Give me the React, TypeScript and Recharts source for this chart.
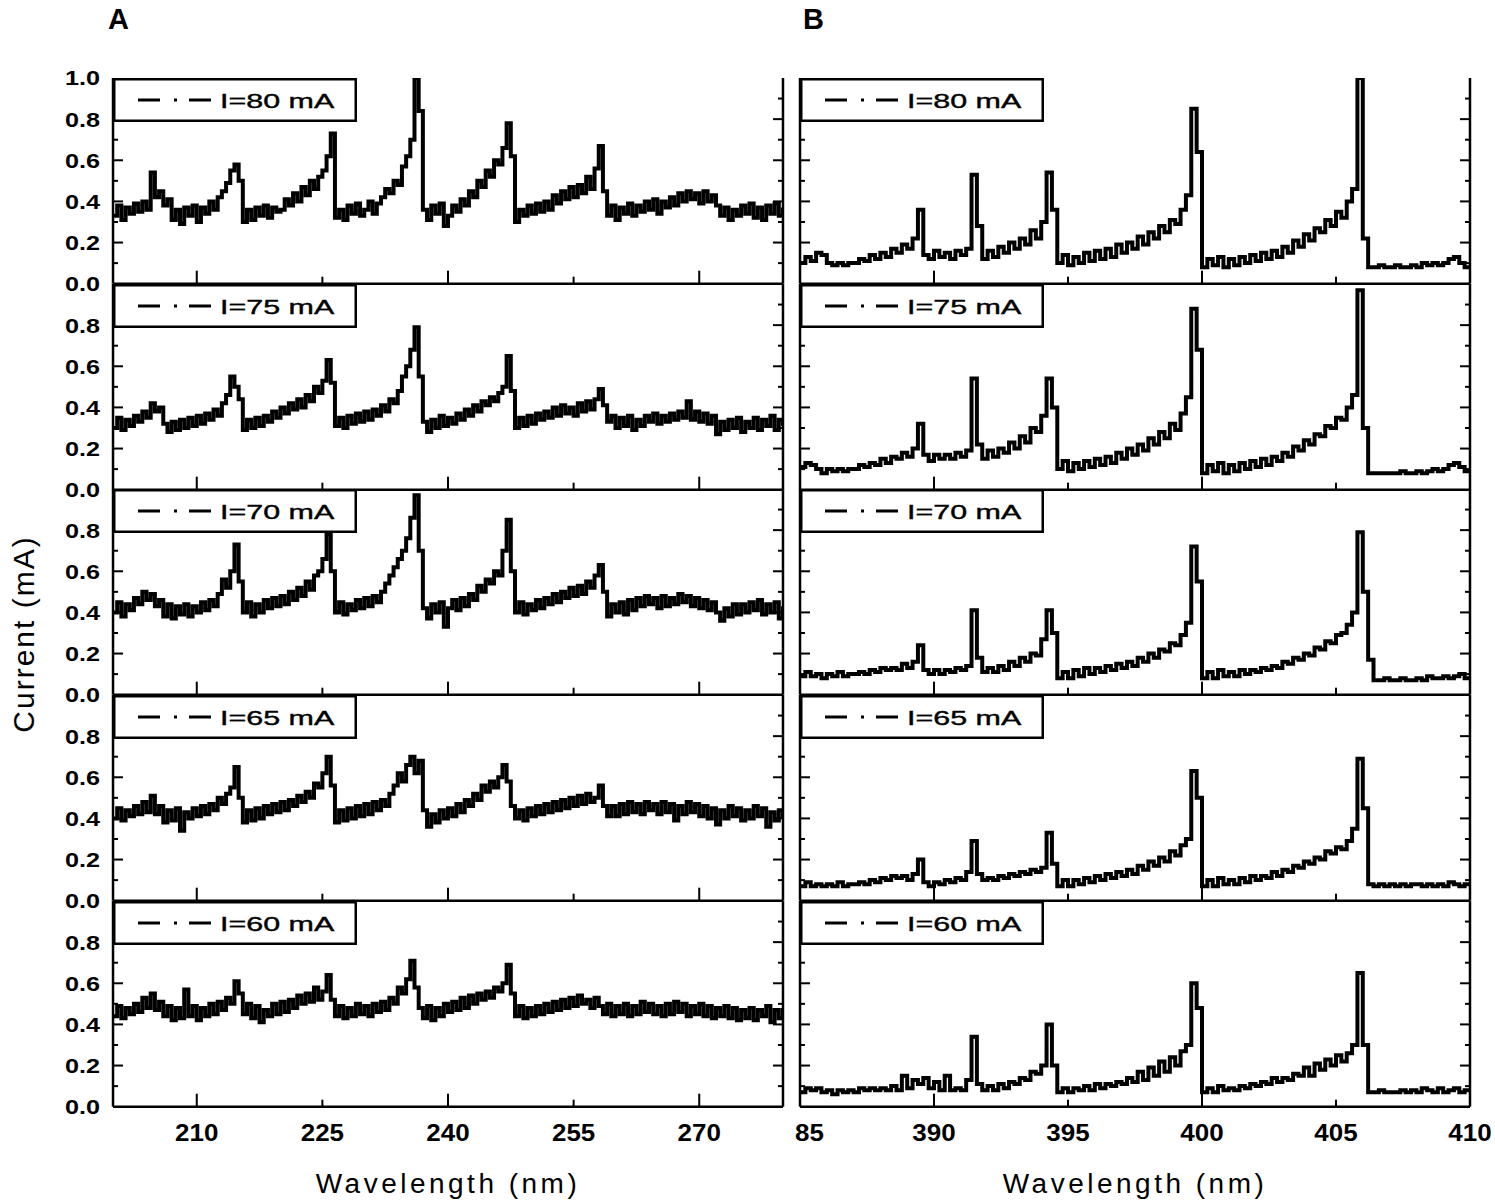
import { LineChart, Line, XAxis, YAxis, Legend } from 'recharts'

// wavelength sampling of the two spectra
const LEFT_START = 200
const LEFT_STEP = 0.5
const RIGHT_START = 385
const RIGHT_STEP = 0.2

const CURRENTS = ['I=80 mA', 'I=75 mA', 'I=70 mA', 'I=65 mA', 'I=60 mA']

const LEFT_TICKS = [210, 225, 240, 255, 270]
const LEFT_MAJOR = [210, 240, 270]
const LEFT_TICK_LABELS = ['210', '225', '240', '255', '270']
const RIGHT_TICKS = [385, 390, 395, 400, 405, 410]
const RIGHT_MAJOR = [390, 400, 410]
const RIGHT_TICK_LABELS = ['85', '390', '395', '400', '405', '410']
const Y_TICKS = [0, 0.1, 0.2, 0.3, 0.4, 0.5, 0.6, 0.7, 0.8, 0.9, 1.0]

// panel A, 200-280 nm, every 0.5 nm
const A80 = [
  0.33, 0.38, 0.31, 0.37, 0.34, 0.39, 0.35, 0.40, 0.36, 0.54,
  0.42, 0.45, 0.38, 0.41, 0.31, 0.36, 0.29, 0.37, 0.33, 0.38,
  0.30, 0.37, 0.34, 0.40, 0.36, 0.42, 0.45, 0.49, 0.55, 0.58,
  0.50, 0.30, 0.36, 0.31, 0.37, 0.33, 0.38, 0.32, 0.37, 0.35,
  0.36, 0.41, 0.38, 0.44, 0.40, 0.47, 0.43, 0.50, 0.46, 0.52,
  0.55, 0.62, 0.73, 0.32, 0.36, 0.31, 0.38, 0.34, 0.39, 0.33,
  0.36, 0.40, 0.34, 0.39, 0.42, 0.46, 0.44, 0.50, 0.48, 0.57,
  0.62, 0.70, 1.00, 0.84, 0.36, 0.31, 0.38, 0.34, 0.39, 0.28,
  0.33, 0.38, 0.35, 0.41, 0.38, 0.45, 0.42, 0.50, 0.47, 0.55,
  0.52, 0.60, 0.58, 0.66, 0.78, 0.62, 0.30, 0.36, 0.33, 0.38,
  0.34, 0.39, 0.35, 0.40, 0.36, 0.43, 0.39, 0.45, 0.41, 0.47,
  0.42, 0.48, 0.44, 0.52, 0.46, 0.56, 0.67, 0.45, 0.33, 0.38,
  0.31, 0.37, 0.34, 0.39, 0.33, 0.38, 0.35, 0.40, 0.36, 0.41,
  0.34, 0.40, 0.37, 0.42, 0.38, 0.44, 0.40, 0.45, 0.41, 0.44,
  0.39, 0.45, 0.40, 0.43, 0.38, 0.33, 0.37, 0.31, 0.36, 0.33,
  0.38, 0.34, 0.39, 0.32, 0.37, 0.31, 0.38, 0.34, 0.39, 0.33, 0.37,
]
const A75 = [
  0.30, 0.35, 0.29, 0.34, 0.31, 0.36, 0.33, 0.38, 0.35, 0.42,
  0.38, 0.40, 0.32, 0.28, 0.33, 0.29, 0.34, 0.30, 0.35, 0.31,
  0.36, 0.32, 0.37, 0.34, 0.39, 0.36, 0.42, 0.46, 0.55, 0.50,
  0.44, 0.29, 0.34, 0.30, 0.35, 0.31, 0.36, 0.33, 0.38, 0.35,
  0.40, 0.37, 0.42, 0.39, 0.44, 0.40, 0.46, 0.43, 0.50, 0.47,
  0.53, 0.63, 0.52, 0.31, 0.35, 0.30, 0.36, 0.32, 0.37, 0.33,
  0.38, 0.34, 0.39, 0.36, 0.41, 0.38, 0.44, 0.42, 0.48, 0.55,
  0.60, 0.68, 0.79, 0.55, 0.33, 0.28, 0.34, 0.30, 0.36, 0.31,
  0.35, 0.32, 0.37, 0.34, 0.39, 0.36, 0.41, 0.38, 0.43, 0.41,
  0.45, 0.43, 0.47, 0.50, 0.65, 0.48, 0.30, 0.35, 0.31, 0.36,
  0.32, 0.37, 0.34, 0.38, 0.35, 0.40, 0.36, 0.41, 0.37, 0.40,
  0.36, 0.42, 0.38, 0.43, 0.39, 0.44, 0.49, 0.41, 0.33, 0.36,
  0.30, 0.35, 0.31, 0.36, 0.29, 0.34, 0.31, 0.36, 0.33, 0.37,
  0.32, 0.36, 0.33, 0.37, 0.34, 0.38, 0.35, 0.43, 0.34, 0.38,
  0.33, 0.37, 0.32, 0.36, 0.27, 0.33, 0.29, 0.34, 0.30, 0.35,
  0.28, 0.33, 0.30, 0.35, 0.29, 0.34, 0.31, 0.36, 0.29, 0.34, 0.31,
]
const A70 = [
  0.40, 0.45, 0.38, 0.44, 0.41, 0.47, 0.44, 0.50, 0.46, 0.49,
  0.43, 0.46, 0.38, 0.44, 0.37, 0.43, 0.39, 0.44, 0.38, 0.43,
  0.40, 0.45, 0.41, 0.46, 0.43, 0.49, 0.56, 0.52, 0.60, 0.73,
  0.55, 0.40, 0.45, 0.38, 0.44, 0.40, 0.46, 0.42, 0.47, 0.43,
  0.48, 0.44, 0.50, 0.46, 0.52, 0.48, 0.55, 0.51, 0.58, 0.60,
  0.66, 0.78, 0.60, 0.40, 0.45, 0.39, 0.44, 0.41, 0.46, 0.42,
  0.47, 0.43, 0.48, 0.45, 0.50, 0.54, 0.58, 0.62, 0.66, 0.70,
  0.76, 0.86, 0.97, 0.70, 0.42, 0.37, 0.44, 0.40, 0.45, 0.33,
  0.42, 0.46, 0.41, 0.47, 0.43, 0.49, 0.46, 0.53, 0.50, 0.56,
  0.54, 0.60, 0.58, 0.70, 0.85, 0.60, 0.40, 0.45, 0.39, 0.44,
  0.41, 0.46, 0.42, 0.47, 0.44, 0.49, 0.45, 0.50, 0.47, 0.52,
  0.48, 0.53, 0.49, 0.55, 0.52, 0.58, 0.63, 0.50, 0.38, 0.44,
  0.40, 0.45, 0.39, 0.46, 0.41, 0.47, 0.43, 0.48, 0.44, 0.47,
  0.42, 0.48, 0.43, 0.47, 0.44, 0.49, 0.45, 0.48, 0.43, 0.47,
  0.42, 0.46, 0.41, 0.45, 0.40, 0.36, 0.42, 0.38, 0.44, 0.39,
  0.44, 0.40, 0.45, 0.41, 0.46, 0.39, 0.44, 0.40, 0.45, 0.37, 0.43,
]
const A65 = [
  0.40, 0.45, 0.39, 0.44, 0.41, 0.46, 0.42, 0.48, 0.43, 0.51,
  0.42, 0.46, 0.38, 0.44, 0.39, 0.45, 0.34, 0.43, 0.40, 0.45,
  0.41, 0.46, 0.42, 0.47, 0.44, 0.50, 0.47, 0.52, 0.55, 0.65,
  0.50, 0.38, 0.44, 0.39, 0.45, 0.40, 0.46, 0.42, 0.47, 0.43,
  0.48, 0.44, 0.49, 0.46, 0.51, 0.48, 0.53, 0.50, 0.57, 0.55,
  0.62, 0.70, 0.56, 0.38, 0.44, 0.39, 0.45, 0.40, 0.46, 0.41,
  0.47, 0.42, 0.48, 0.44, 0.49, 0.46, 0.52, 0.56, 0.62, 0.58,
  0.66, 0.70, 0.62, 0.68, 0.44, 0.36, 0.42, 0.38, 0.44, 0.40,
  0.45, 0.41, 0.47, 0.43, 0.49, 0.46, 0.52, 0.49, 0.56, 0.53,
  0.58, 0.55, 0.60, 0.66, 0.58, 0.46, 0.40, 0.44, 0.39, 0.45,
  0.41, 0.46, 0.42, 0.47, 0.43, 0.48, 0.44, 0.49, 0.45, 0.50,
  0.46, 0.51, 0.47, 0.52, 0.48, 0.50, 0.56, 0.46, 0.41, 0.46,
  0.41, 0.47, 0.42, 0.48, 0.43, 0.47, 0.42, 0.48, 0.44, 0.47,
  0.42, 0.48, 0.43, 0.47, 0.39, 0.46, 0.42, 0.48, 0.43, 0.47,
  0.41, 0.46, 0.40, 0.45, 0.37, 0.44, 0.40, 0.46, 0.41, 0.45,
  0.39, 0.44, 0.40, 0.46, 0.41, 0.45, 0.36, 0.43, 0.39, 0.44, 0.40,
]
const A60 = [
  0.44, 0.49, 0.43, 0.48, 0.45, 0.50, 0.46, 0.53, 0.48, 0.55,
  0.47, 0.51, 0.44, 0.49, 0.42, 0.48, 0.43, 0.57, 0.44, 0.49,
  0.42, 0.48, 0.44, 0.50, 0.45, 0.51, 0.47, 0.53, 0.50, 0.61,
  0.55, 0.45, 0.50, 0.43, 0.49, 0.41, 0.47, 0.44, 0.50, 0.45,
  0.51, 0.46, 0.52, 0.48, 0.54, 0.50, 0.55, 0.51, 0.58, 0.52,
  0.56, 0.64, 0.52, 0.44, 0.49, 0.43, 0.48, 0.44, 0.50, 0.45,
  0.49, 0.44, 0.50, 0.46, 0.51, 0.47, 0.53, 0.50, 0.58, 0.55,
  0.62, 0.71, 0.58, 0.48, 0.43, 0.49, 0.42, 0.48, 0.44, 0.50,
  0.46, 0.51, 0.47, 0.53, 0.48, 0.54, 0.50, 0.55, 0.52, 0.56,
  0.53, 0.58, 0.56, 0.60, 0.69, 0.55, 0.44, 0.49, 0.43, 0.48,
  0.44, 0.49, 0.45, 0.50, 0.46, 0.51, 0.47, 0.52, 0.48, 0.53,
  0.49, 0.54, 0.50, 0.52, 0.48, 0.53, 0.49, 0.45, 0.50, 0.44,
  0.49, 0.45, 0.50, 0.44, 0.49, 0.45, 0.51, 0.46, 0.50, 0.45,
  0.49, 0.44, 0.50, 0.45, 0.51, 0.46, 0.50, 0.44, 0.49, 0.45,
  0.50, 0.44, 0.49, 0.43, 0.48, 0.44, 0.49, 0.43, 0.48, 0.42,
  0.47, 0.43, 0.48, 0.42, 0.47, 0.44, 0.49, 0.41, 0.47, 0.43, 0.48,
]

// panel B, 385-410 nm, every 0.2 nm
const B80 = [
  0.10, 0.13, 0.11, 0.15, 0.14, 0.10, 0.09, 0.10, 0.09, 0.10,
  0.10, 0.12, 0.11, 0.14, 0.12, 0.15, 0.13, 0.17, 0.15, 0.19,
  0.17, 0.22, 0.36, 0.14, 0.12, 0.16, 0.13, 0.15, 0.12, 0.16,
  0.14, 0.17, 0.53, 0.28, 0.12, 0.16, 0.13, 0.18, 0.15, 0.20,
  0.17, 0.22, 0.19, 0.26, 0.22, 0.30, 0.54, 0.36, 0.10, 0.14,
  0.09, 0.13, 0.10, 0.15, 0.11, 0.16, 0.12, 0.17, 0.13, 0.19,
  0.15, 0.20, 0.17, 0.23, 0.19, 0.25, 0.22, 0.28, 0.25, 0.31,
  0.29, 0.36, 0.43, 0.85, 0.64, 0.08, 0.12, 0.09, 0.13, 0.08,
  0.12, 0.09, 0.13, 0.10, 0.14, 0.11, 0.15, 0.12, 0.16, 0.13,
  0.18, 0.15, 0.21, 0.18, 0.24, 0.21, 0.27, 0.25, 0.31, 0.28,
  0.35, 0.32, 0.40, 0.46, 1.00, 0.22, 0.08, 0.08, 0.09, 0.08,
  0.08, 0.09, 0.08, 0.08, 0.09, 0.08, 0.10, 0.09, 0.10, 0.09,
  0.10, 0.12, 0.13, 0.10, 0.08, 0.07,
]
const B75 = [
  0.11, 0.13, 0.12, 0.10, 0.08, 0.10, 0.09, 0.10, 0.09, 0.10,
  0.10, 0.12, 0.11, 0.13, 0.12, 0.15, 0.13, 0.16, 0.15, 0.18,
  0.16, 0.20, 0.32, 0.17, 0.14, 0.17, 0.15, 0.17, 0.15, 0.18,
  0.16, 0.19, 0.54, 0.22, 0.15, 0.19, 0.16, 0.20, 0.18, 0.23,
  0.20, 0.26, 0.23, 0.30, 0.28, 0.36, 0.54, 0.40, 0.10, 0.14,
  0.09, 0.13, 0.10, 0.14, 0.11, 0.15, 0.12, 0.16, 0.13, 0.18,
  0.15, 0.20, 0.17, 0.22, 0.19, 0.25, 0.22, 0.28, 0.25, 0.32,
  0.29, 0.37, 0.45, 0.88, 0.68, 0.08, 0.12, 0.09, 0.13, 0.08,
  0.12, 0.09, 0.13, 0.10, 0.14, 0.11, 0.15, 0.12, 0.16, 0.14,
  0.18, 0.16, 0.21, 0.19, 0.24, 0.22, 0.27, 0.26, 0.31, 0.30,
  0.35, 0.34, 0.40, 0.46, 0.97, 0.30, 0.08, 0.08, 0.08, 0.08,
  0.08, 0.08, 0.09, 0.08, 0.08, 0.09, 0.08, 0.09, 0.10, 0.09,
  0.10, 0.12, 0.13, 0.11, 0.09, 0.08,
]
const B70 = [
  0.09, 0.11, 0.09, 0.10, 0.08, 0.10, 0.09, 0.11, 0.09, 0.10,
  0.10, 0.11, 0.10, 0.12, 0.11, 0.13, 0.12, 0.13, 0.12, 0.15,
  0.13, 0.16, 0.24, 0.12, 0.10, 0.12, 0.10, 0.12, 0.11, 0.13,
  0.12, 0.14, 0.41, 0.18, 0.11, 0.13, 0.11, 0.14, 0.12, 0.16,
  0.14, 0.18, 0.16, 0.20, 0.19, 0.27, 0.41, 0.30, 0.08, 0.11,
  0.08, 0.12, 0.09, 0.13, 0.10, 0.13, 0.11, 0.14, 0.12, 0.15,
  0.13, 0.16, 0.14, 0.18, 0.16, 0.20, 0.18, 0.22, 0.21, 0.25,
  0.24, 0.29, 0.35, 0.72, 0.55, 0.08, 0.11, 0.08, 0.12, 0.09,
  0.11, 0.09, 0.12, 0.10, 0.12, 0.11, 0.13, 0.12, 0.14, 0.13,
  0.16, 0.15, 0.18, 0.17, 0.20, 0.19, 0.23, 0.22, 0.26, 0.25,
  0.29, 0.30, 0.34, 0.40, 0.79, 0.50, 0.17, 0.07, 0.07, 0.08,
  0.07, 0.07, 0.08, 0.07, 0.07, 0.08, 0.07, 0.09, 0.08, 0.08,
  0.09, 0.08, 0.09, 0.10, 0.08, 0.07,
]
const B65 = [
  0.07, 0.09, 0.07, 0.08, 0.07, 0.08, 0.07, 0.09, 0.07, 0.08,
  0.08, 0.09, 0.08, 0.10, 0.09, 0.11, 0.10, 0.12, 0.11, 0.12,
  0.10, 0.13, 0.20, 0.09, 0.07, 0.09, 0.08, 0.10, 0.09, 0.11,
  0.10, 0.14, 0.29, 0.13, 0.10, 0.11, 0.10, 0.12, 0.11, 0.13,
  0.12, 0.14, 0.13, 0.15, 0.14, 0.16, 0.33, 0.18, 0.07, 0.10,
  0.07, 0.10, 0.08, 0.11, 0.09, 0.12, 0.10, 0.13, 0.11, 0.14,
  0.12, 0.15, 0.13, 0.17, 0.15, 0.19, 0.17, 0.21, 0.19, 0.24,
  0.22, 0.27, 0.30, 0.63, 0.50, 0.07, 0.10, 0.07, 0.11, 0.08,
  0.10, 0.08, 0.11, 0.09, 0.12, 0.10, 0.12, 0.11, 0.14, 0.12,
  0.15, 0.14, 0.17, 0.16, 0.19, 0.18, 0.21, 0.20, 0.24, 0.23,
  0.26, 0.25, 0.29, 0.35, 0.69, 0.45, 0.08, 0.07, 0.08, 0.07,
  0.08, 0.07, 0.08, 0.07, 0.08, 0.08, 0.07, 0.08, 0.07, 0.08,
  0.07, 0.09, 0.08, 0.07, 0.08, 0.07,
]
const B60 = [
  0.07, 0.09, 0.08, 0.09, 0.07, 0.08, 0.06, 0.08, 0.07, 0.08,
  0.07, 0.09, 0.08, 0.09, 0.08, 0.09, 0.08, 0.10, 0.08, 0.15,
  0.09, 0.13, 0.11, 0.14, 0.09, 0.12, 0.08, 0.15, 0.08, 0.09,
  0.08, 0.13, 0.34, 0.11, 0.08, 0.10, 0.08, 0.11, 0.09, 0.12,
  0.11, 0.14, 0.13, 0.17, 0.16, 0.20, 0.40, 0.20, 0.07, 0.09,
  0.07, 0.09, 0.08, 0.10, 0.08, 0.11, 0.09, 0.11, 0.10, 0.12,
  0.11, 0.14, 0.12, 0.17, 0.13, 0.19, 0.15, 0.22, 0.17, 0.24,
  0.20, 0.27, 0.30, 0.60, 0.48, 0.07, 0.09, 0.07, 0.10, 0.08,
  0.09, 0.08, 0.10, 0.09, 0.11, 0.10, 0.12, 0.11, 0.14, 0.12,
  0.14, 0.13, 0.16, 0.15, 0.19, 0.15, 0.21, 0.18, 0.23, 0.20,
  0.25, 0.22, 0.26, 0.30, 0.65, 0.30, 0.07, 0.07, 0.08, 0.07,
  0.07, 0.07, 0.08, 0.07, 0.08, 0.07, 0.09, 0.08, 0.07, 0.09,
  0.07, 0.08, 0.09, 0.07, 0.08, 0.07,
]

const LEFT_SERIES = [A80, A75, A70, A65, A60]
const RIGHT_SERIES = [B80, B75, B70, B65, B60]

const FONT = '"Liberation Sans", Arial, Helvetica, sans-serif'
const PAD = 14
const TOP0 = 77.8
const PANEL_H = 205.7
const PLOT_W = 670
const BOTTOM_H = 95
const frame = { stroke: '#000', strokeWidth: 2.5 }

const COLUMNS = [
  {
    id: 'A', plotLeft: 113, leftW: 75, rightW: 6, domain: [200, 280],
    ticks: LEFT_TICKS, major: LEFT_MAJOR, tickLabels: LEFT_TICK_LABELS,
    series: LEFT_SERIES, start: LEFT_START, step: LEFT_STEP, yLabels: true, lineW: 4,
  },
  {
    id: 'B', plotLeft: 800, leftW: 6, rightW: 22, domain: [385, 410],
    ticks: RIGHT_TICKS, major: RIGHT_MAJOR, tickLabels: RIGHT_TICK_LABELS,
    series: RIGHT_SERIES, start: RIGHT_START, step: RIGHT_STEP, yLabels: false, lineW: 4,
  },
]

function LegendBox({ text }: { text: string }) {
  return (
    <svg width={244} height={44} style={{ display: 'block' }}>
      <rect x={1.25} y={1.25} width={241.5} height={41.5} fill="#fff" stroke="#000" strokeWidth={2.5} />
      <line x1={25} x2={98} y1={22} y2={22} stroke="#000" strokeWidth={3} strokeDasharray="22 14 3 12 22" />
      <text
        transform="translate(107,29.5) scale(1.45,1)"
        fontSize={21}
        fontFamily={FONT}
        fill="#000"
        stroke="#000"
        strokeWidth={0.4}
      >
        {text}
      </text>
    </svg>
  )
}

function Panel({ col, k }: { col: any; k: number }) {
  const isLast = k === 4
  const top = TOP0 + k * PANEL_H
  const vals: number[] = col.series[k]
  const rows = vals.map((v, i) => ({ x: col.start + i * col.step, v }))
  const [lo, hi] = col.domain

  const bottomTick = (p: any) => {
    const v = p.payload.value
    const inside = v > lo && v < hi
    const len = col.major.includes(v) ? 13 : 7
    const label = col.tickLabels[col.ticks.indexOf(v)]
    const atEdge = v === lo
    return (
      <g>
        {inside && <line x1={p.x} x2={p.x} y1={p.y} y2={p.y - len} stroke="#000" strokeWidth={2} />}
        {isLast && (
          <text
            transform={`translate(${atEdge ? p.x - 5 : p.x},${p.y + 34}) scale(1.13,1)`}
            textAnchor={atEdge ? 'start' : 'middle'}
            fontSize={23}
            fontWeight="bold"
            fontFamily={FONT}
            fill="#000"
          >
            {label}
          </text>
        )}
      </g>
    )
  }

  const topTick = (p: any) => {
    const v = p.payload.value
    if (!(v > lo && v < hi)) return <g />
    const len = col.major.includes(v) ? 13 : 7
    return <line x1={p.x} x2={p.x} y1={p.y} y2={p.y + len} stroke="#000" strokeWidth={2} />
  }

  const leftTick = (p: any) => {
    const v = p.payload.value
    const major = Math.round(v * 10) % 2 === 0
    const inside = v > 0.01 && v < 0.99
    const showLabel = col.yLabels && major && (v < 0.99 || k === 0)
    return (
      <g>
        {inside && <line x1={p.x} x2={p.x + (major ? 10 : 5)} y1={p.y} y2={p.y} stroke="#000" strokeWidth={2} />}
        {showLabel && (
          <text
            transform={`translate(${p.x - 13},${p.y + 7.5}) scale(1.2,1)`}
            textAnchor="end"
            fontSize={21}
            fontWeight="bold"
            fontFamily={FONT}
            fill="#000"
          >
            {v.toFixed(1)}
          </text>
        )}
      </g>
    )
  }

  const rightTick = (p: any) => {
    const v = p.payload.value
    if (!(v > 0.01 && v < 0.99)) return <g />
    const major = Math.round(v * 10) % 2 === 0
    return <line x1={p.x} x2={p.x - (major ? 10 : 5)} y1={p.y} y2={p.y} stroke="#000" strokeWidth={2} />
  }

  const width = col.leftW + PLOT_W + col.rightW
  const height = PAD + PANEL_H + (isLast ? BOTTOM_H : PAD)

  return (
    <div style={{ position: 'absolute', left: col.plotLeft - col.leftW, top: top - PAD }}>
      <LineChart width={width} height={height} data={rows} margin={{ top: PAD, right: 0, bottom: 0, left: 0 }}>
        <XAxis
          xAxisId="b"
          dataKey="x"
          type="number"
          domain={col.domain}
          ticks={col.ticks}
          interval={0}
          allowDataOverflow
          height={isLast ? BOTTOM_H : PAD}
          tickSize={0}
          tickMargin={0}
          tickLine={false}
          axisLine={frame}
          tick={bottomTick}
          label={
            isLast
              ? {
                  value: 'Wavelength (nm)',
                  position: 'insideBottom',
                  offset: 9,
                  style: { fontSize: 28, letterSpacing: 3.5, fill: '#000', fontFamily: FONT },
                }
              : undefined
          }
        />
        <XAxis
          xAxisId="t"
          orientation="top"
          dataKey="x"
          type="number"
          domain={col.domain}
          ticks={col.ticks}
          interval={0}
          allowDataOverflow
          height={0}
          tickSize={0}
          tickMargin={0}
          tickLine={false}
          axisLine={frame}
          tick={topTick}
        />
        <YAxis
          yAxisId="l"
          type="number"
          domain={[0, 1]}
          ticks={Y_TICKS}
          interval={0}
          allowDataOverflow
          width={col.leftW}
          tickSize={0}
          tickMargin={0}
          tickLine={false}
          axisLine={frame}
          tick={leftTick}
        />
        <YAxis
          yAxisId="r"
          orientation="right"
          type="number"
          domain={[0, 1]}
          ticks={Y_TICKS}
          interval={0}
          allowDataOverflow
          width={col.rightW}
          tickSize={0}
          tickMargin={0}
          tickLine={false}
          axisLine={frame}
          tick={rightTick}
        />
        <Legend
          layout="horizontal"
          verticalAlign="middle"
          align="center"
          wrapperStyle={{ top: PAD, left: col.leftW, width: 244, height: 44, lineHeight: 0 }}
          content={() => <LegendBox text={CURRENTS[k]} />}
        />
        <Line
          xAxisId="b"
          yAxisId="l"
          dataKey="v"
          type="stepAfter"
          stroke="#000"
          strokeWidth={col.lineW}
          strokeLinejoin="miter"
          strokeLinecap="butt"
          dot={false}
          activeDot={false}
          isAnimationActive={false}
        />
      </LineChart>
    </div>
  )
}

export default function App() {
  return (
    <div style={{ position: 'absolute', left: 0, top: 0, width: 1495, height: 1204, background: '#fff', fontFamily: FONT }}>
      <svg width={1495} height={1204} style={{ position: 'absolute', left: 0, top: 0 }}>
        <text x={108} y={29} fontSize={29} fontWeight="bold" fontFamily={FONT} fill="#000">A</text>
        <text x={803} y={29} fontSize={29} fontWeight="bold" fontFamily={FONT} fill="#000">B</text>
        <text
          transform="translate(34,634) rotate(-90)"
          textAnchor="middle"
          fontSize={30}
          letterSpacing={2}
          fontFamily={FONT}
          fill="#000"
        >
          Current (mA)
        </text>
      </svg>
      {COLUMNS.map((col) => [0, 1, 2, 3, 4].map((k) => <Panel key={col.id + k} col={col} k={k} />))}
    </div>
  )
}
